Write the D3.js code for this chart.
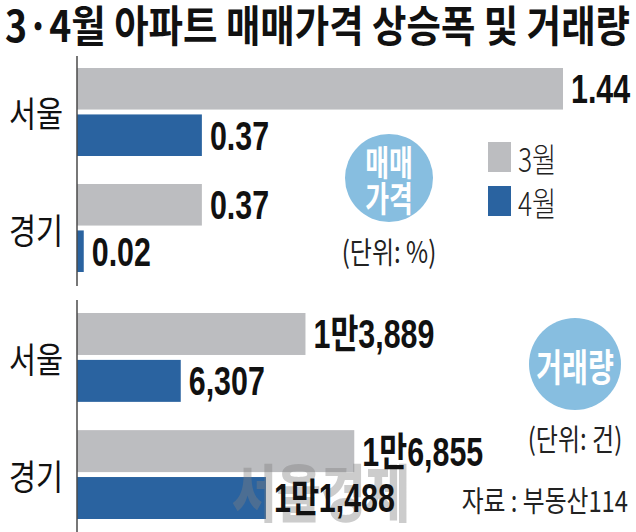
<!DOCTYPE html>
<html><head><meta charset="utf-8">
<script src="https://cdn.jsdelivr.net/npm/d3@7"></script>
<style>html,body{margin:0;padding:0;background:#fff;}svg{display:block;}</style>
</head><body>
<svg id="chart" width="636" height="532"></svg>
<script>
const title = "3·4월 아파트 매매가격 상승폭 및 거래량";
const regions = ["서울", "경기"];
const months = ["3월", "4월"];
const priceMar = [1.44, 0.37];
const priceApr = [0.37, 0.02];
const volMar = [13889, 16855];
const volApr = [6307, 11488];
const priceBadge = ["매매", "가격"];
const volBadge = ["거래량"];
const priceUnit = "(단위: %)";
const volUnit = "(단위: 건)";
const source = "자료 : 부동산114";
const watermark = "서울경제";

const C_GRAY = "#bcbdc0", C_BLUE = "#2a63a0", C_BADGE = "#87bee0", C_TEXT = "#111";
const KR = "'Noto Sans CJK KR', sans-serif";
const NUM = "'Liberation Sans', 'Noto Sans CJK KR', sans-serif";

const svg = d3.select("#chart");

function condense(sel, f) {
  sel.each(function () {
    const L = this.getComputedTextLength();
    d3.select(this).attr("textLength", L * f).attr("lengthAdjust", "spacingAndGlyphs");
  });
}

// Title
svg.append("text").attr("x", 5).attr("y", 23)
  .attr("dominant-baseline", "central")
  .attr("font-family", KR).attr("font-weight", 700).attr("font-size", 43)
  .attr("fill", C_TEXT)
  .attr("textLength", 625).attr("lengthAdjust", "spacingAndGlyphs")
  .text(title);

const fmtPrice = d3.format(".2f");
const fmtVol = v => v >= 10000 ? Math.floor(v / 10000) + "만" + d3.format(",")(v % 10000) : d3.format(",")(v);

function panel(cfg) {
  const g = svg.append("g");
  const y = d3.scaleBand().domain(regions).range(cfg.yRange).paddingInner(0.2414).paddingOuter(0);
  const ySub = d3.scaleBand().domain(months).range([0, y.bandwidth()]).paddingInner(0.105);
  const x = d3.scaleLinear().domain(cfg.xDomain).range([77, cfg.xMax]);
  const rows = [];
  regions.forEach((r, i) => {
    rows.push({ region: r, month: months[0], value: cfg.mar[i] });
    rows.push({ region: r, month: months[1], value: cfg.apr[i] });
  });
  g.selectAll("rect.bar").data(rows).join("rect").attr("class", "bar")
    .attr("x", x(0))
    .attr("y", d => y(d.region) + ySub(d.month))
    .attr("width", d => x(d.value) - x(0))
    .attr("height", ySub.bandwidth())
    .attr("fill", d => d.month === months[0] ? C_GRAY : C_BLUE);

  // axis line
  g.append("line").attr("x1", 77).attr("x2", 77)
    .attr("y1", cfg.axisY[0]).attr("y2", cfg.axisY[1])
    .attr("stroke", "#4a4a4a").attr("stroke-width", 1.5);

  // category labels via axis
  const ax = g.append("g").attr("transform", "translate(77,0)")
    .call(d3.axisLeft(y).tickSize(0).tickPadding(0));
  ax.select(".domain").remove();
  ax.selectAll("text")
    .attr("x", -41).attr("dy", null)
    .attr("text-anchor", "middle").attr("dominant-baseline", "central")
    .attr("font-family", KR).attr("font-weight", 400).attr("font-size", 35).attr("fill", C_TEXT)
    .call(condense, 0.84);

  if (cfg.after) cfg.after(g);

  g.selectAll("text.val").data(rows).join("text").attr("class", "val")
    .attr("x", d => x(d.value) + 8)
    .attr("y", d => y(d.region) + ySub(d.month) + ySub.bandwidth() / 2)
    .attr("dy", "0.36em")
    .attr("font-family", NUM).attr("font-weight", 700).attr("font-size", 40)
    .attr("fill", C_TEXT)
    .text(d => cfg.fmt(d.value))
    .call(condense, 0.76);
}

panel({ yRange: [68, 272], xDomain: [0, 1.44], xMax: 563, axisY: [56, 286],
  mar: priceMar, apr: priceApr, fmt: fmtPrice });

panel({ yRange: [313, 519], xDomain: [0, 20000], xMax: 406, axisY: [300, 532],
  mar: volMar, apr: volApr, fmt: fmtVol,
  after: g => {
    g.append("text").attr("x", 321).attr("y", 490)
      .attr("text-anchor", "middle").attr("dominant-baseline", "central")
      .attr("font-family", KR).attr("font-weight", 900).attr("font-size", 62)
      .attr("fill", "#808080").attr("fill-opacity", 0.4)
      .text(watermark).call(condense, 0.78);
  } });

// Legend
const leg = svg.append("g");
months.forEach((m, i) => {
  leg.append("rect").attr("x", 488).attr("y", 142 + i * 44).attr("width", 23).attr("height", 30)
    .attr("fill", i === 0 ? C_GRAY : C_BLUE);
  leg.append("text").attr("x", 518).attr("y", 158 + i * 44)
    .attr("dominant-baseline", "central")
    .attr("font-family", KR).attr("font-weight", 300).attr("font-size", 33).attr("fill", "#222")
    .text(m).call(condense, 0.8);
});

// Badges
function badge(cx, cy, r, lines, lh, fs, unit, unitY) {
  svg.append("circle").attr("cx", cx).attr("cy", cy).attr("r", r).attr("fill", C_BADGE);
  lines.forEach((t, i) => {
    svg.append("text").attr("x", cx).attr("y", cy + (i - (lines.length - 1) / 2) * lh)
      .attr("text-anchor", "middle").attr("dominant-baseline", "central")
      .attr("font-family", KR).attr("font-weight", 700).attr("font-size", fs).attr("fill", "#fff")
      .text(t).call(condense, 0.74);
  });
  svg.append("text").attr("x", cx).attr("y", unitY)
    .attr("text-anchor", "middle").attr("dominant-baseline", "central")
    .attr("font-family", KR).attr("font-weight", 400).attr("font-size", 30).attr("fill", "#222")
    .text(unit).call(condense, 0.8);
}
badge(389, 178, 44, priceBadge, 36, 35, priceUnit, 250);
badge(575, 364, 46, volBadge, 0, 38, volUnit, 437);

// Source
svg.append("text").attr("x", 628).attr("y", 499)
  .attr("text-anchor", "end").attr("dominant-baseline", "central")
  .attr("font-family", KR).attr("font-weight", 400).attr("font-size", 29).attr("fill", "#222")
  .text(source).call(condense, 0.82);
</script>
</body></html>
